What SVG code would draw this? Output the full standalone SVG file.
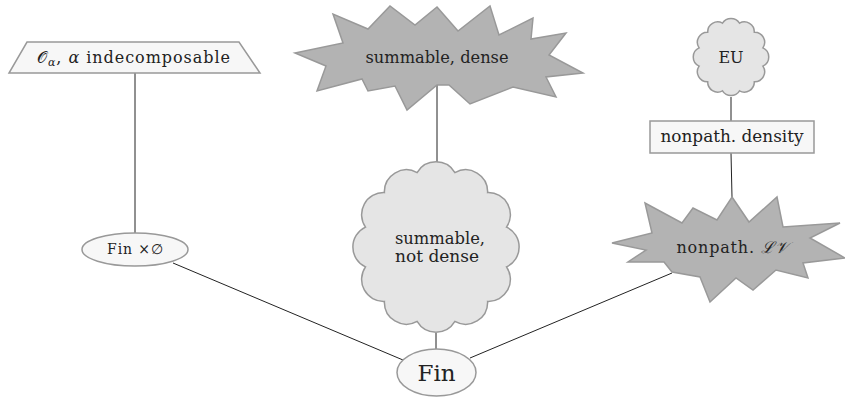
<svg xmlns="http://www.w3.org/2000/svg" width="845" height="399" viewBox="0 0 845 399">
<style>
.edge{stroke:#222;stroke-width:1;fill:none}
.light{fill:#f7f7f7;stroke:#999;stroke-width:1.5}
.cloud{fill:#e5e5e5;stroke:#999;stroke-width:1.5}
.burst{fill:#b3b3b3;stroke:#999;stroke-width:1.5;stroke-linejoin:miter}
text{font-family:"DejaVu Serif","Liberation Serif",serif;font-size:16px;fill:#222}
.small{font-size:14px}
.big{font-size:23px}
.sub{font-size:11px}
</style>
<rect width="845" height="399" fill="#fff"/>
<g id="connectors">
<line class="edge" x1="135" y1="73" x2="135" y2="233"/>
<line class="edge" x1="437" y1="84" x2="437" y2="162"/>
<line class="edge" x1="436" y1="333" x2="436" y2="349"/>
<line class="edge" x1="731" y1="97" x2="731" y2="121"/>
<line class="edge" x1="731" y1="153" x2="732" y2="197"/>
<line class="edge" x1="173" y1="263" x2="403" y2="360"/>
<line class="edge" x1="470" y1="358" x2="672" y2="273"/>
</g>
<g id="node-O">
<polygon class="light" points="27,42 239,42 260,73 9,73"/>
<text x="37" y="63" textLength="193" lengthAdjust="spacing"><tspan>𝒪</tspan><tspan class="sub" dy="3" font-style="italic">α</tspan><tspan dy="-3">, </tspan><tspan font-style="italic">α</tspan><tspan> indecomposable</tspan></text>
</g>
<g id="node-summable-dense">
<polygon class="burst" points="437,7 458,31 490,6 499,35 533,18 531,39 566,33 549,55 583,73 546,77 556,97 513,87 470,104 449,85 437,85 407,110 395,86 368,91 362,79 317,91 326,66 295,53 343,43 333,14 368,29 390,6 415,25"/>
<text x="437" y="63" text-anchor="middle" textLength="143" lengthAdjust="spacingAndGlyphs">summable, dense</text>
</g>
<g id="node-EU">
<path class="cloud" d="M739.5,23.2 A10 10 0 0 1 754.3,32.3 A10 10 0 0 1 762.9,47.9 A10 10 0 0 1 762.9,66.1 A10 10 0 0 1 754.3,81.7 A10 10 0 0 1 739.5,90.8 A10 10 0 0 1 722.5,90.8 A10 10 0 0 1 707.7,81.7 A10 10 0 0 1 699.1,66.1 A10 10 0 0 1 699.1,47.9 A10 10 0 0 1 707.7,32.3 A10 10 0 0 1 722.5,23.2 A10 10 0 0 1 739.5,23.2 Z"/>
<text x="731" y="63" text-anchor="middle">EU</text>
</g>
<g id="node-density">
<rect class="light" x="650" y="121" width="164" height="32"/>
<text x="732" y="142" text-anchor="middle" textLength="143" lengthAdjust="spacingAndGlyphs">nonpath.  density</text>
</g>
<g id="node-notdense">
<path class="cloud" d="M454.9,172.6 A22 22 0 0 1 487.6,192.6 A22 22 0 0 1 506.5,227.1 A22 22 0 0 1 506.5,266.9 A22 22 0 0 1 487.6,301.4 A22 22 0 0 1 454.9,321.4 A22 22 0 0 1 417.1,321.4 A22 22 0 0 1 384.4,301.4 A22 22 0 0 1 365.5,266.9 A22 22 0 0 1 365.5,227.1 A22 22 0 0 1 384.4,192.6 A22 22 0 0 1 417.1,172.6 A22 22 0 0 1 454.9,172.6 Z"/>
<text x="395" y="244" textLength="90" lengthAdjust="spacingAndGlyphs">summable,</text>
<text x="395" y="262" textLength="84" lengthAdjust="spacingAndGlyphs">not dense</text>
</g>
<g id="node-LV">
<polygon class="burst" points="732,197 749,222 777,197 783,227 840,223 810,238 845,258 803,263 808,278 776,270 753,290 736,278 710,302 700,277 672,272 664,262 628,262 646,250 612,243 652,233 645,203 682,223 693,208 717,220"/>
<text x="732" y="253" text-anchor="middle" textLength="111" lengthAdjust="spacing">nonpath. <tspan font-style="italic">ℒ𝒱</tspan></text>
</g>
<g id="node-FinEmpty">
<ellipse class="light" cx="135" cy="249.5" rx="53" ry="16.5"/>
<text class="small" x="135" y="254" text-anchor="middle" textLength="56" lengthAdjust="spacing">Fin ×∅</text>
</g>
<g id="node-Fin">
<ellipse class="light" cx="436.5" cy="372.5" rx="39.5" ry="23.5"/>
<text class="big" x="436.5" y="381" text-anchor="middle">Fin</text>
</g>
</svg>
